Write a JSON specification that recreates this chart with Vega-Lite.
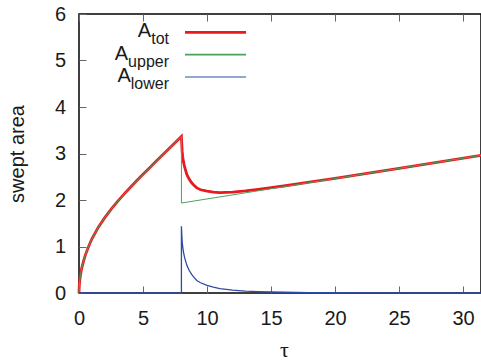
{
  "$schema": "https://vega.github.io/schema/vega-lite/v6.json",
  "width": 402,
  "height": 279,
  "autosize": {"type": "none"},
  "padding": {"left": 79, "top": 14, "right": 0, "bottom": 68},
  "config": {
    "view": {"stroke": "#000000", "strokeWidth": 1.5},
    "font": "Liberation Sans",
    "axis": {
      "domain": false,
      "grid": false,
      "tickSize": -7,
      "tickColor": "#666666",
      "tickWidth": 1,
      "labelFont": "Liberation Sans",
      "labelFontSize": 20,
      "labelColor": "#1a1a1a",
      "labelFlush": false,
      "labelOverlap": false,
      "titleColor": "#1a1a1a",
      "titleFontWeight": "normal"
    }
  },
  "datasets": {
    "curves": [
      {"series": "tot", "tau": 0, "area": 0},
      {"series": "tot", "tau": 0.02, "area": 0.15},
      {"series": "tot", "tau": 0.05, "area": 0.25},
      {"series": "tot", "tau": 0.1, "area": 0.36},
      {"series": "tot", "tau": 0.2, "area": 0.52},
      {"series": "tot", "tau": 0.35, "area": 0.68},
      {"series": "tot", "tau": 0.5, "area": 0.82},
      {"series": "tot", "tau": 0.75, "area": 1.0},
      {"series": "tot", "tau": 1.0, "area": 1.16},
      {"series": "tot", "tau": 1.5, "area": 1.41},
      {"series": "tot", "tau": 2.0, "area": 1.615},
      {"series": "tot", "tau": 2.5, "area": 1.8},
      {"series": "tot", "tau": 3.0, "area": 1.965},
      {"series": "tot", "tau": 3.5, "area": 2.12},
      {"series": "tot", "tau": 4.0, "area": 2.268},
      {"series": "tot", "tau": 4.5, "area": 2.412},
      {"series": "tot", "tau": 5.0, "area": 2.552},
      {"series": "tot", "tau": 5.5, "area": 2.69},
      {"series": "tot", "tau": 6.0, "area": 2.826},
      {"series": "tot", "tau": 6.5, "area": 2.961},
      {"series": "tot", "tau": 7.0, "area": 3.096},
      {"series": "tot", "tau": 7.5, "area": 3.231},
      {"series": "tot", "tau": 8.0, "area": 3.366},
      {"series": "tot", "tau": 8.03, "area": 3.19},
      {"series": "tot", "tau": 8.06, "area": 3.04},
      {"series": "tot", "tau": 8.1, "area": 2.93},
      {"series": "tot", "tau": 8.16, "area": 2.82},
      {"series": "tot", "tau": 8.25, "area": 2.71},
      {"series": "tot", "tau": 8.42, "area": 2.55},
      {"series": "tot", "tau": 8.6, "area": 2.45},
      {"series": "tot", "tau": 8.8, "area": 2.37},
      {"series": "tot", "tau": 9.0, "area": 2.31},
      {"series": "tot", "tau": 9.2, "area": 2.26},
      {"series": "tot", "tau": 9.5, "area": 2.22},
      {"series": "tot", "tau": 10, "area": 2.19},
      {"series": "tot", "tau": 10.5, "area": 2.17},
      {"series": "tot", "tau": 11, "area": 2.16},
      {"series": "tot", "tau": 12, "area": 2.17},
      {"series": "tot", "tau": 13, "area": 2.194},
      {"series": "tot", "tau": 14, "area": 2.228},
      {"series": "tot", "tau": 15, "area": 2.264},
      {"series": "tot", "tau": 16, "area": 2.301},
      {"series": "tot", "tau": 18, "area": 2.382},
      {"series": "tot", "tau": 20, "area": 2.466},
      {"series": "tot", "tau": 25, "area": 2.681},
      {"series": "tot", "tau": 31.4, "area": 2.96},

      {"series": "upper", "tau": 0, "area": 0},
      {"series": "upper", "tau": 0.02, "area": 0.15},
      {"series": "upper", "tau": 0.05, "area": 0.25},
      {"series": "upper", "tau": 0.1, "area": 0.36},
      {"series": "upper", "tau": 0.2, "area": 0.52},
      {"series": "upper", "tau": 0.35, "area": 0.68},
      {"series": "upper", "tau": 0.5, "area": 0.82},
      {"series": "upper", "tau": 0.75, "area": 1.0},
      {"series": "upper", "tau": 1.0, "area": 1.16},
      {"series": "upper", "tau": 1.5, "area": 1.41},
      {"series": "upper", "tau": 2.0, "area": 1.615},
      {"series": "upper", "tau": 2.5, "area": 1.8},
      {"series": "upper", "tau": 3.0, "area": 1.965},
      {"series": "upper", "tau": 3.5, "area": 2.12},
      {"series": "upper", "tau": 4.0, "area": 2.268},
      {"series": "upper", "tau": 4.5, "area": 2.412},
      {"series": "upper", "tau": 5.0, "area": 2.552},
      {"series": "upper", "tau": 5.5, "area": 2.69},
      {"series": "upper", "tau": 6.0, "area": 2.826},
      {"series": "upper", "tau": 6.5, "area": 2.961},
      {"series": "upper", "tau": 7.0, "area": 3.096},
      {"series": "upper", "tau": 7.5, "area": 3.231},
      {"series": "upper", "tau": 8.0, "area": 3.366},
      {"series": "upper", "tau": 8.0, "area": 1.935},
      {"series": "upper", "tau": 31.4, "area": 2.96},

      {"series": "lower", "tau": 0, "area": 0},
      {"series": "lower", "tau": 8.0, "area": 0},
      {"series": "lower", "tau": 8.0, "area": 1.434},
      {"series": "lower", "tau": 8.03, "area": 1.25},
      {"series": "lower", "tau": 8.06, "area": 1.1},
      {"series": "lower", "tau": 8.1, "area": 0.99},
      {"series": "lower", "tau": 8.16, "area": 0.88},
      {"series": "lower", "tau": 8.25, "area": 0.76},
      {"series": "lower", "tau": 8.42, "area": 0.6},
      {"series": "lower", "tau": 8.6, "area": 0.49},
      {"series": "lower", "tau": 8.8, "area": 0.4},
      {"series": "lower", "tau": 9.0, "area": 0.33},
      {"series": "lower", "tau": 9.2, "area": 0.27},
      {"series": "lower", "tau": 9.5, "area": 0.22},
      {"series": "lower", "tau": 10, "area": 0.165},
      {"series": "lower", "tau": 10.5, "area": 0.125},
      {"series": "lower", "tau": 11, "area": 0.095},
      {"series": "lower", "tau": 12, "area": 0.06},
      {"series": "lower", "tau": 13, "area": 0.04},
      {"series": "lower", "tau": 14, "area": 0.03},
      {"series": "lower", "tau": 15, "area": 0.022},
      {"series": "lower", "tau": 16, "area": 0.016},
      {"series": "lower", "tau": 18, "area": 0.009},
      {"series": "lower", "tau": 20, "area": 0.005},
      {"series": "lower", "tau": 25, "area": 0.001},
      {"series": "lower", "tau": 31.4, "area": 0}
    ],
    "keyRows": [
      {"series": "tot", "sub": "tot"},
      {"series": "upper", "sub": "upper"},
      {"series": "lower", "sub": "lower"}
    ]
  },
  "resolve": {
    "scale": {"y": "independent"},
    "axis": {"x": "independent", "y": "independent"}
  },
  "layer": [
    {
      "data": {"name": "curves"},
      "layer": [
        {
          "transform": [{"filter": "datum.series === 'tot'"}],
          "mark": {"type": "line", "color": "#e8191f", "strokeWidth": 2.8},
          "encoding": {
            "x": {
              "field": "tau", "type": "quantitative",
              "scale": {"domain": [0, 31.4], "nice": false},
              "axis": {
                "values": [0, 5, 10, 15, 20, 25, 30],
                "labelPadding": 22,
                "title": "τ",
                "titleFont": "Liberation Serif",
                "titleFontSize": 22,
                "titleX": 205,
                "titleY": 63,
                "titleAlign": "center",
                "titleBaseline": "alphabetic"
              }
            },
            "y": {
              "field": "area", "type": "quantitative",
              "scale": {"domain": [0, 6], "nice": false},
              "axis": {
                "values": [0, 1, 2, 3, 4, 5, 6],
                "labelPadding": 20.5,
                "title": "swept area",
                "titleFontSize": 20,
                "titleAngle": 270,
                "titleX": -56,
                "titleY": 139.5,
                "titleAlign": "center",
                "titleBaseline": "alphabetic"
              }
            },
            "order": {"value": null}
          }
        },
        {
          "transform": [{"filter": "datum.series === 'upper'"}],
          "mark": {"type": "line", "color": "#49a35c", "strokeWidth": 1},
          "encoding": {
            "x": {"field": "tau", "type": "quantitative"},
            "y": {"field": "area", "type": "quantitative"},
            "order": {"value": null}
          }
        },
        {
          "transform": [{"filter": "datum.series === 'lower'"}],
          "mark": {"type": "line", "color": "#2c4ba6", "strokeWidth": 1.3},
          "encoding": {
            "x": {"field": "tau", "type": "quantitative"},
            "y": {"field": "area", "type": "quantitative"},
            "order": {"value": null}
          }
        }
      ]
    },
    {
      "data": {"name": "keyRows"},
      "encoding": {
        "y": {
          "field": "series", "type": "nominal",
          "scale": {"type": "point", "domain": ["tot", "upper", "lower"], "range": [18.3, 63], "padding": 0, "paddingOuter": 0},
          "axis": null
        }
      },
      "layer": [
        {
          "mark": {"type": "rule"},
          "encoding": {
            "x": {
              "datum": 8.28, "type": "quantitative",
              "scale": {"domain": [0, 31.4], "nice": false},
              "axis": {"orient": "top", "labels": false, "title": null, "values": [0, 5, 10, 15, 20, 25, 30]}
            },
            "x2": {"datum": 13.05},
            "color": {
              "field": "series", "type": "nominal",
              "scale": {"domain": ["tot", "upper", "lower"], "range": ["#e8191f", "#49a35c", "#2c4ba6"]},
              "legend": null
            },
            "strokeWidth": {
              "field": "series", "type": "nominal",
              "scale": {"domain": ["tot", "upper", "lower"], "range": [2.8, 1, 1.3]},
              "legend": null
            }
          }
        },
        {
          "mark": {"type": "text", "align": "right", "baseline": "alphabetic", "dy": 12, "fontSize": 16, "color": "#1a1a1a"},
          "encoding": {
            "x": {"datum": 7.03, "type": "quantitative"},
            "text": {"field": "sub"}
          }
        },
        {
          "transform": [{"filter": "datum.series === 'tot'"}],
          "mark": {"type": "text", "text": "A", "align": "right", "baseline": "alphabetic", "dy": 5, "dx": -17.8, "fontSize": 20, "color": "#1a1a1a"},
          "encoding": {"x": {"datum": 7.03, "type": "quantitative"}}
        },
        {
          "transform": [{"filter": "datum.series === 'upper'"}],
          "mark": {"type": "text", "text": "A", "align": "right", "baseline": "alphabetic", "dy": 5, "dx": -40.9, "fontSize": 20, "color": "#1a1a1a"},
          "encoding": {"x": {"datum": 7.03, "type": "quantitative"}}
        },
        {
          "transform": [{"filter": "datum.series === 'lower'"}],
          "mark": {"type": "text", "text": "A", "align": "right", "baseline": "alphabetic", "dy": 5, "dx": -38.2, "fontSize": 20, "color": "#1a1a1a"},
          "encoding": {"x": {"datum": 7.03, "type": "quantitative"}}
        }
      ]
    }
  ]
}
